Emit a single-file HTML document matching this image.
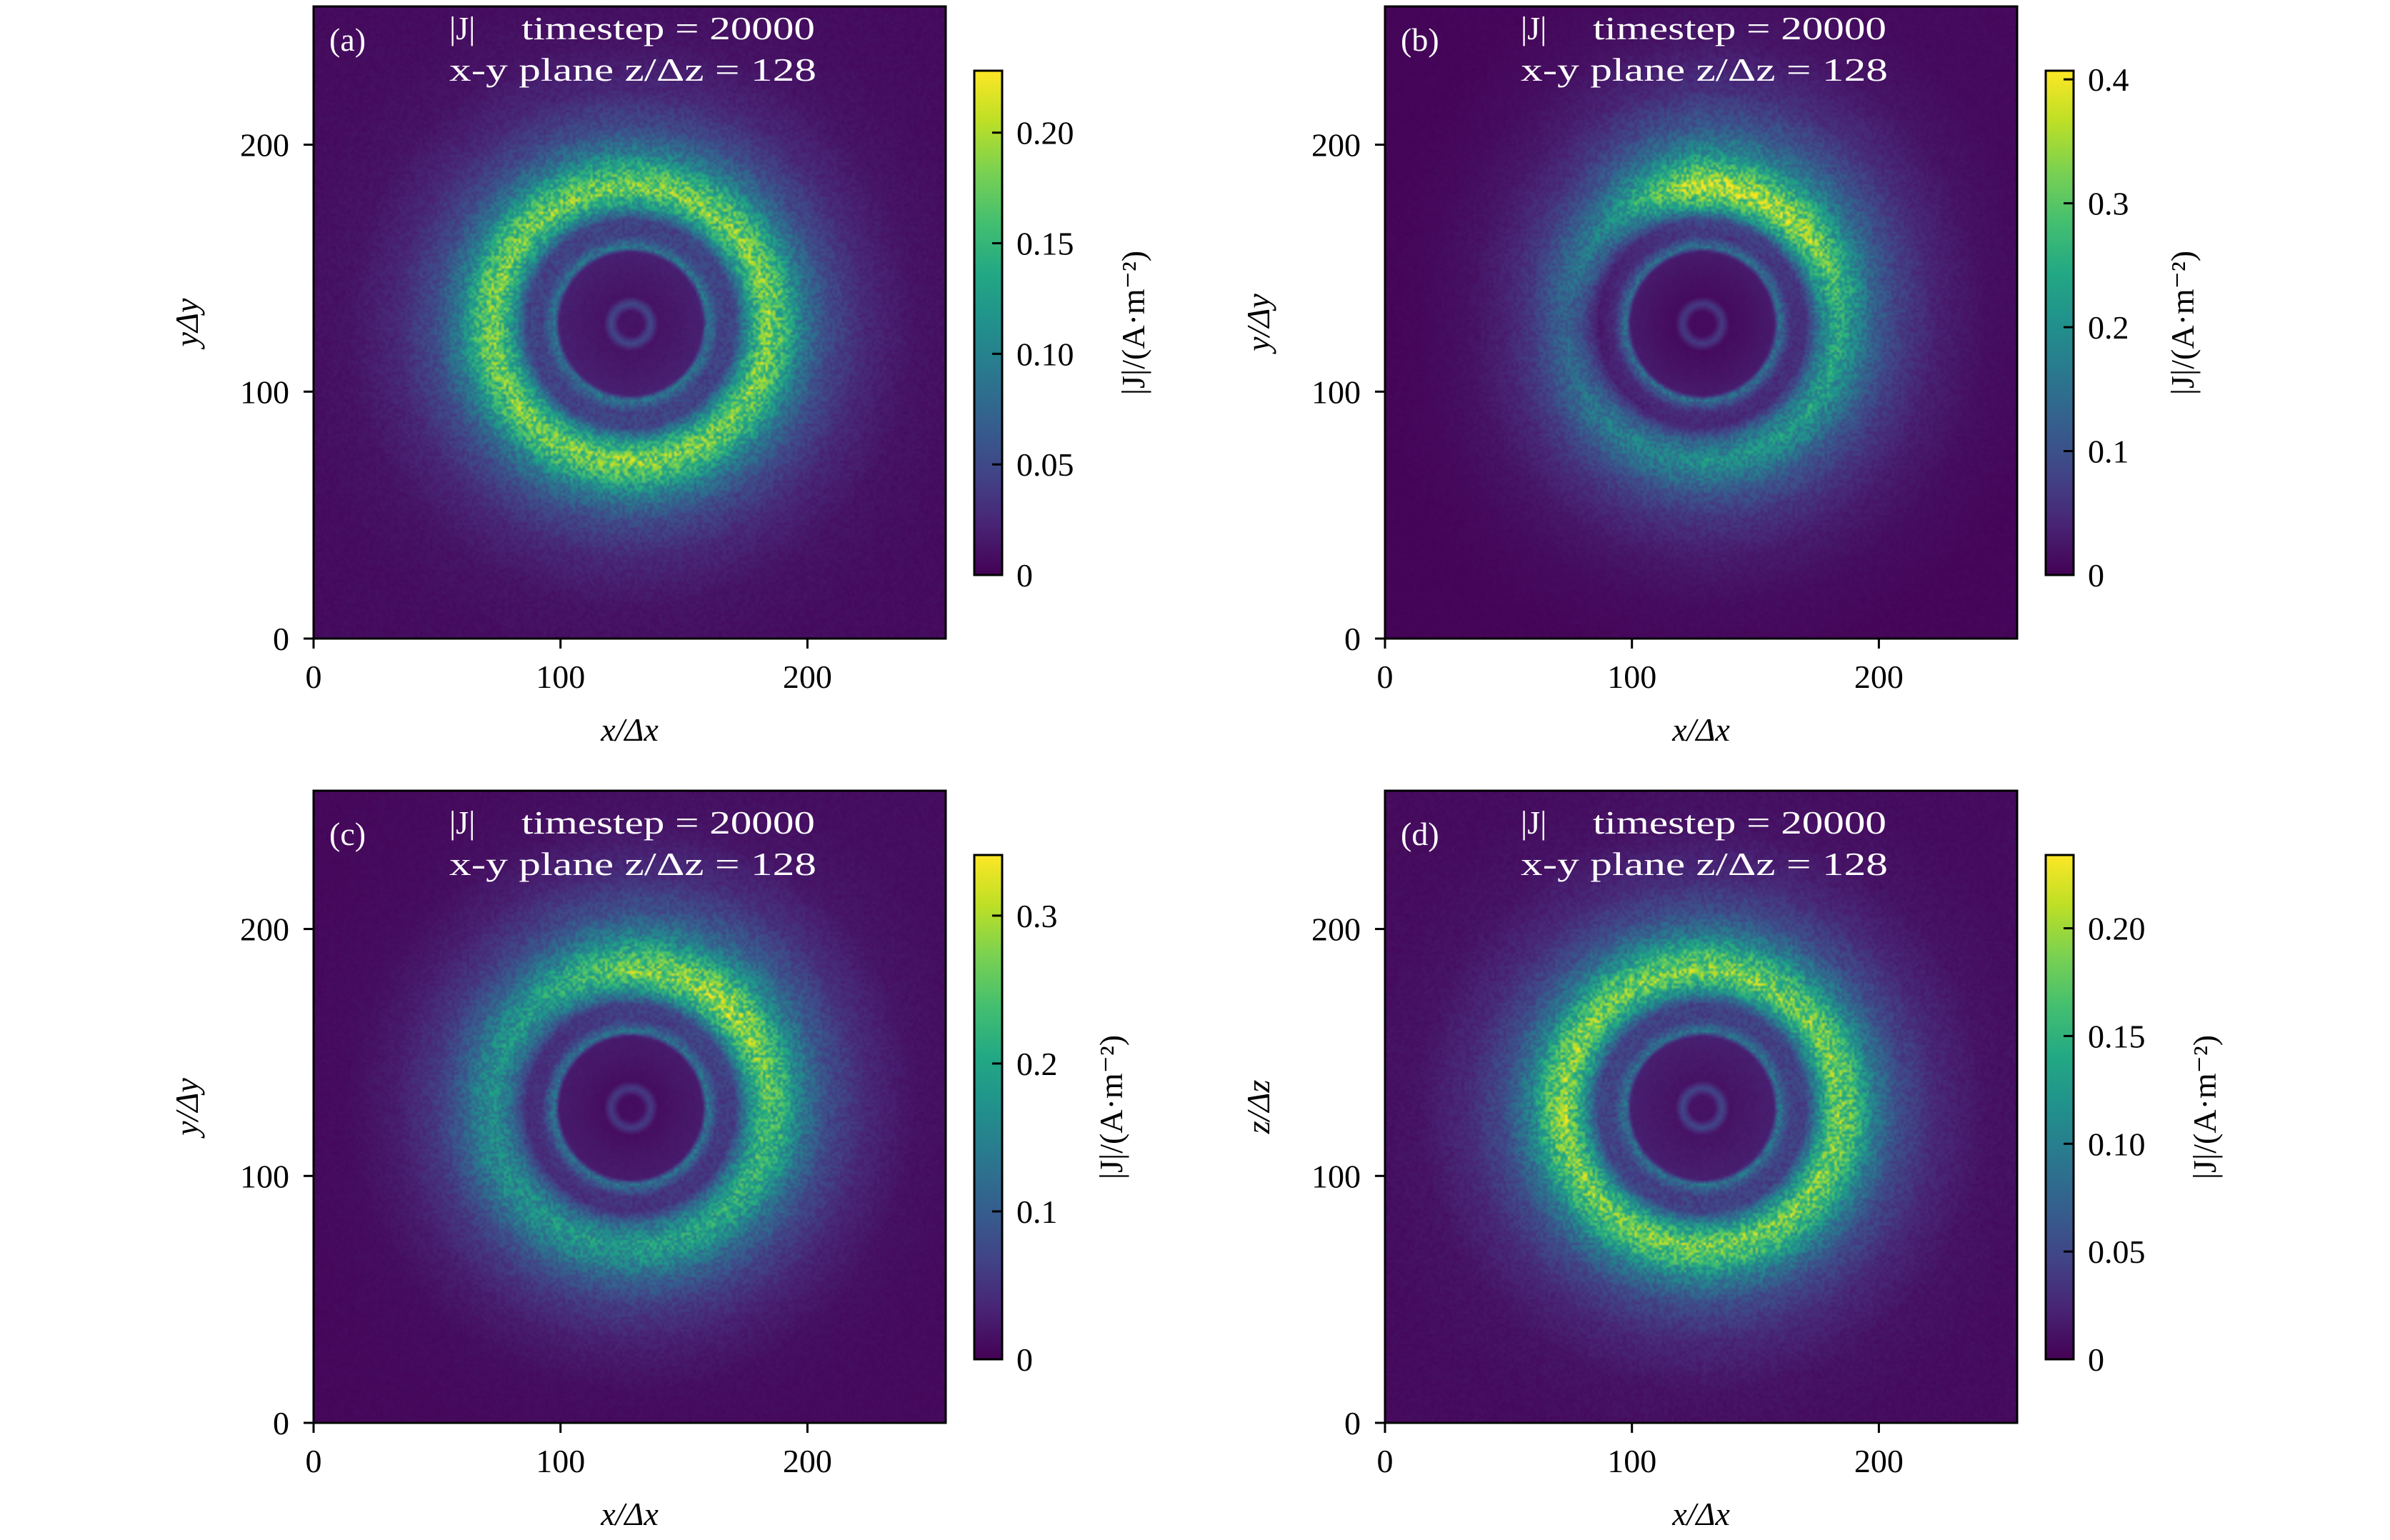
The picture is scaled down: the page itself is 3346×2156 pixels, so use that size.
<!DOCTYPE html>
<html><head><meta charset="utf-8">
<style>
html,body{margin:0;padding:0;background:#fff;}
#wrap{position:relative;width:3346px;height:2156px;overflow:hidden;background:#fff;}
canvas{position:absolute;width:885px;height:885px;}
svg{position:absolute;left:0;top:0;}
text{font-family:"Liberation Serif",serif;}
</style></head>
<body>
<div id="wrap">
<canvas id="cv-a" width="256" height="256" style="left:439px;top:9px"></canvas>
<canvas id="cv-b" width="256" height="256" style="left:1939px;top:9px"></canvas>
<canvas id="cv-c" width="256" height="256" style="left:439px;top:1107px"></canvas>
<canvas id="cv-d" width="256" height="256" style="left:1939px;top:1107px"></canvas>
<svg id="svg" width="3346" height="2156" xmlns="http://www.w3.org/2000/svg">
<defs>
<linearGradient id="viridis" x1="0" y1="1" x2="0" y2="0">
<stop offset="0" stop-color="#440154"/><stop offset="0.1" stop-color="#482475"/><stop offset="0.2" stop-color="#414487"/><stop offset="0.3" stop-color="#355f8d"/><stop offset="0.4" stop-color="#2a788e"/><stop offset="0.5" stop-color="#21918c"/><stop offset="0.6" stop-color="#22a884"/><stop offset="0.7" stop-color="#44bf70"/><stop offset="0.8" stop-color="#7ad151"/><stop offset="0.9" stop-color="#bddf26"/><stop offset="1" stop-color="#fde725"/>
</linearGradient>
</defs>
</svg>
</div>
<script>
// ---- data ----
const radii = [0,5,8,11,20,29,31,33,36,42,48,55,62,70,80,95,115,140,190];
const profileA = [0.012,0.012,0.05,0.012,0.016,0.02,0.09,0.07,0.045,0.045,0.12,0.18,0.15,0.09,0.05,0.025,0.012,0.008,0.006];
const profileB = [0.012,0.012,0.07,0.012,0.02,0.03,0.15,0.11,0.06,0.07,0.21,0.31,0.24,0.15,0.09,0.045,0.02,0.01,0.008];
const profileC = [0.012,0.012,0.06,0.012,0.02,0.025,0.13,0.10,0.055,0.055,0.15,0.22,0.19,0.12,0.07,0.035,0.015,0.01,0.008];
const profileD = [0.012,0.012,0.05,0.012,0.016,0.02,0.09,0.07,0.045,0.045,0.12,0.185,0.155,0.095,0.052,0.026,0.012,0.008,0.006];
const angles = [0,45,90,135,180,225,270,315];
const angFactorA = [1,1.02,1,1,1,1,1.02,1];
const angFactorB = [0.8,1.15,1.25,0.6,0.4,0.55,0.65,0.72];
const angFactorC = [1.1,1.35,1.2,0.85,0.75,0.8,0.85,0.95];
const angFactorD = [1,1,1.02,1,1.05,1,1,1];
const vmaxA = 0.228, vmaxB = 0.407, vmaxC = 0.341, vmaxD = 0.234;
const cbarTicksA = [0,0.05,0.10,0.15,0.20];
const cbarLabelsA = ["0","0.05","0.10","0.15","0.20"];
const cbarTicksB = [0,0.1,0.2,0.3,0.4];
const cbarLabelsB = ["0","0.1","0.2","0.3","0.4"];
const cbarTicksC = [0,0.1,0.2,0.3];
const cbarLabelsC = ["0","0.1","0.2","0.3"];
const cbarTicksD = [0,0.05,0.10,0.15,0.20];
const cbarLabelsD = ["0","0.05","0.10","0.15","0.20"];
const axisTicks = [0,100,200];
const axisTickLabels = ["0","100","200"];

// ---- styling ----
const VIR = [[68,1,84],[72,36,117],[65,68,135],[53,95,141],[42,120,142],[33,145,140],[34,168,132],[68,191,112],[122,209,81],[189,223,38],[253,231,37]];
function cmap(t){t=Math.max(0,Math.min(1,t));const f=t*10,i=Math.min(9,Math.floor(f)),u=f-i;const a=VIR[i],b=VIR[i+1];return [a[0]+(b[0]-a[0])*u,a[1]+(b[1]-a[1])*u,a[2]+(b[2]-a[2])*u];}
function interp(xs,ys,x){if(x<=xs[0])return ys[0];for(let i=1;i<xs.length;i++){if(x<=xs[i]){const u=(x-xs[i-1])/(xs[i]-xs[i-1]);return ys[i-1]+(ys[i]-ys[i-1])*u;}}return ys[ys.length-1];}
function angInterp(fs,deg){deg=((deg%360)+360)%360;const i=Math.floor(deg/45),u=(deg-i*45)/45;return fs[i%8]+(fs[(i+1)%8]-fs[i%8])*u;}
function hash(i,j,s){let h=(i*374761393+j*668265263+s*982451653)|0;h=(h^(h>>>13))*1274126177|0;h=h^(h>>>16);return (h>>>0)/4294967295;}
function smooth(a,b,x){const t=Math.max(0,Math.min(1,(x-a)/(b-a)));return t*t*(3-2*t);}

function drawHeat(id,profile,fac,vmax,seed){
  const cv=document.getElementById(id),ctx=cv.getContext('2d');
  const img=ctx.createImageData(256,256);
  const cx=128,cy=127;
  for(let row=0;row<256;row++){
    const gy=255-row;
    for(let gx=0;gx<256;gx++){
      const dx=gx-cx,dy=gy-cy,r=Math.sqrt(dx*dx+dy*dy);
      const th=Math.atan2(dy,dx)*180/Math.PI;
      let v=interp(radii,profile,r);
      const w=smooth(32,42,r);
      v*= (1-w)+w*angInterp(fac,th);
      const n=hash(gx,gy,seed);
      const inDisk=r<30;
      v*= inDisk?(1+0.1*(n-0.5)):(1+0.5*(n-0.5));
      v+= 0.004*(hash(gy,gx,seed+7)-0.5);
      const c=cmap(v/vmax);const k=(row*256+gx)*4;
      img.data[k]=c[0];img.data[k+1]=c[1];img.data[k+2]=c[2];img.data[k+3]=255;
    }
  }
  ctx.putImageData(img,0,0);
}
drawHeat('cv-a',profileA,angFactorA,vmaxA,1);
drawHeat('cv-b',profileB,angFactorB,vmaxB,2);
drawHeat('cv-c',profileC,angFactorC,vmaxC,3);
drawHeat('cv-d',profileD,angFactorD,vmaxD,4);

// ---- axes ----
const NS='http://www.w3.org/2000/svg';
const svg=document.getElementById('svg');
function mk(tag,attrs,parent,txt){const e=document.createElementNS(NS,tag);for(const k in attrs)e.setAttribute(k,attrs[k]);if(txt!==undefined)e.textContent=txt;(parent||svg).appendChild(e);return e;}
const W=885,H=885,FS=46;
function panel(key,L,T,ticks,labels,vmax,ylab,tOff,cbLabX){
  const g=mk('g',{});
  
  
  const fr=mk('rect',{x:L,y:T,width:W,height:H,fill:'none',stroke:'#000','stroke-width':3},g);
  
  
  const sx=v=>L+v/256*W, sy=v=>T+H-v/256*H;
  axisTicks.forEach((t,i)=>{
    mk('line',{x1:sx(t),x2:sx(t),y1:T+H,y2:T+H+14,stroke:'#000','stroke-width':3},g);
    const xl=mk('text',{x:sx(t),y:T+H+69,'font-size':FS,'text-anchor':'middle'},g,axisTickLabels[i]);
    
    
    mk('line',{x1:L-14,x2:L,y1:sy(t),y2:sy(t),stroke:'#000','stroke-width':3},g);
    const yl=mk('text',{x:L-34,y:sy(t)+16,'font-size':FS,'text-anchor':'end'},g,axisTickLabels[i]);
    
    
  });
  const xt=mk('text',{x:L+W/2,y:T+H+143,'font-size':FS,'text-anchor':'middle','font-style':'italic'},g,'x/Δx');
  
  
  const yt=mk('text',{x:0,y:0,'font-size':FS,'text-anchor':'middle','font-style':'italic',transform:`translate(${L-162},${T+H/2}) rotate(-90)`},g,ylab);
  
  
  const pl=mk('text',{x:L+22,y:T+tOff+16,'font-size':FS,fill:'#fff'},g,'('+key+')');
  
  
  const t1=mk('text',{x:L+190,y:T+tOff,'font-size':FS,fill:'#fff'},g,'|J|');
  
  
  const t2=mk('text',{x:L+291,y:T+tOff,'font-size':FS,fill:'#fff',textLength:411,lengthAdjust:'spacingAndGlyphs'},g,'timestep = 20000');
  
  
  const t3=mk('text',{x:L+190,y:T+tOff+58,'font-size':FS,fill:'#fff',textLength:514,lengthAdjust:'spacingAndGlyphs'},g,'x-y plane z/Δz = 128');
  
  
  // colorbar
  const cx=L+925, ct=T+90, ch=706, cw=39;
  const cb=mk('rect',{x:cx,y:ct,width:cw,height:ch,fill:'url(#viridis)',stroke:'#000','stroke-width':3},g);
  
  
  const cy=v=>ct+ch-v/vmax*ch;
  ticks.forEach((t,i)=>{
    mk('line',{x1:cx+cw-14,x2:cx+cw,y1:cy(t),y2:cy(t),stroke:'#000','stroke-width':3},g);
    const cl=mk('text',{x:cx+cw+20,y:cy(t)+16,'font-size':FS},g,labels[i]);
    
    
  });
  const ctl=mk('text',{x:0,y:0,'font-size':FS,'text-anchor':'middle',transform:`translate(${L+cbLabX+14},${ct+ch/2}) rotate(-90)`},g,'|J|/(A·m⁻²)');
  
  
}
panel('a',439,9,cbarTicksA,cbarLabelsA,vmaxA,'yΔy',46,1149);
panel('b',1939,9,cbarTicksB,cbarLabelsB,vmaxB,'y/Δy',46,1118);
panel('c',439,1107,cbarTicksC,cbarLabelsC,vmaxC,'y/Δy',60,1118);
panel('d',1939,1107,cbarTicksD,cbarLabelsD,vmaxD,'z/Δz',60,1149);
</script>
</body></html>
